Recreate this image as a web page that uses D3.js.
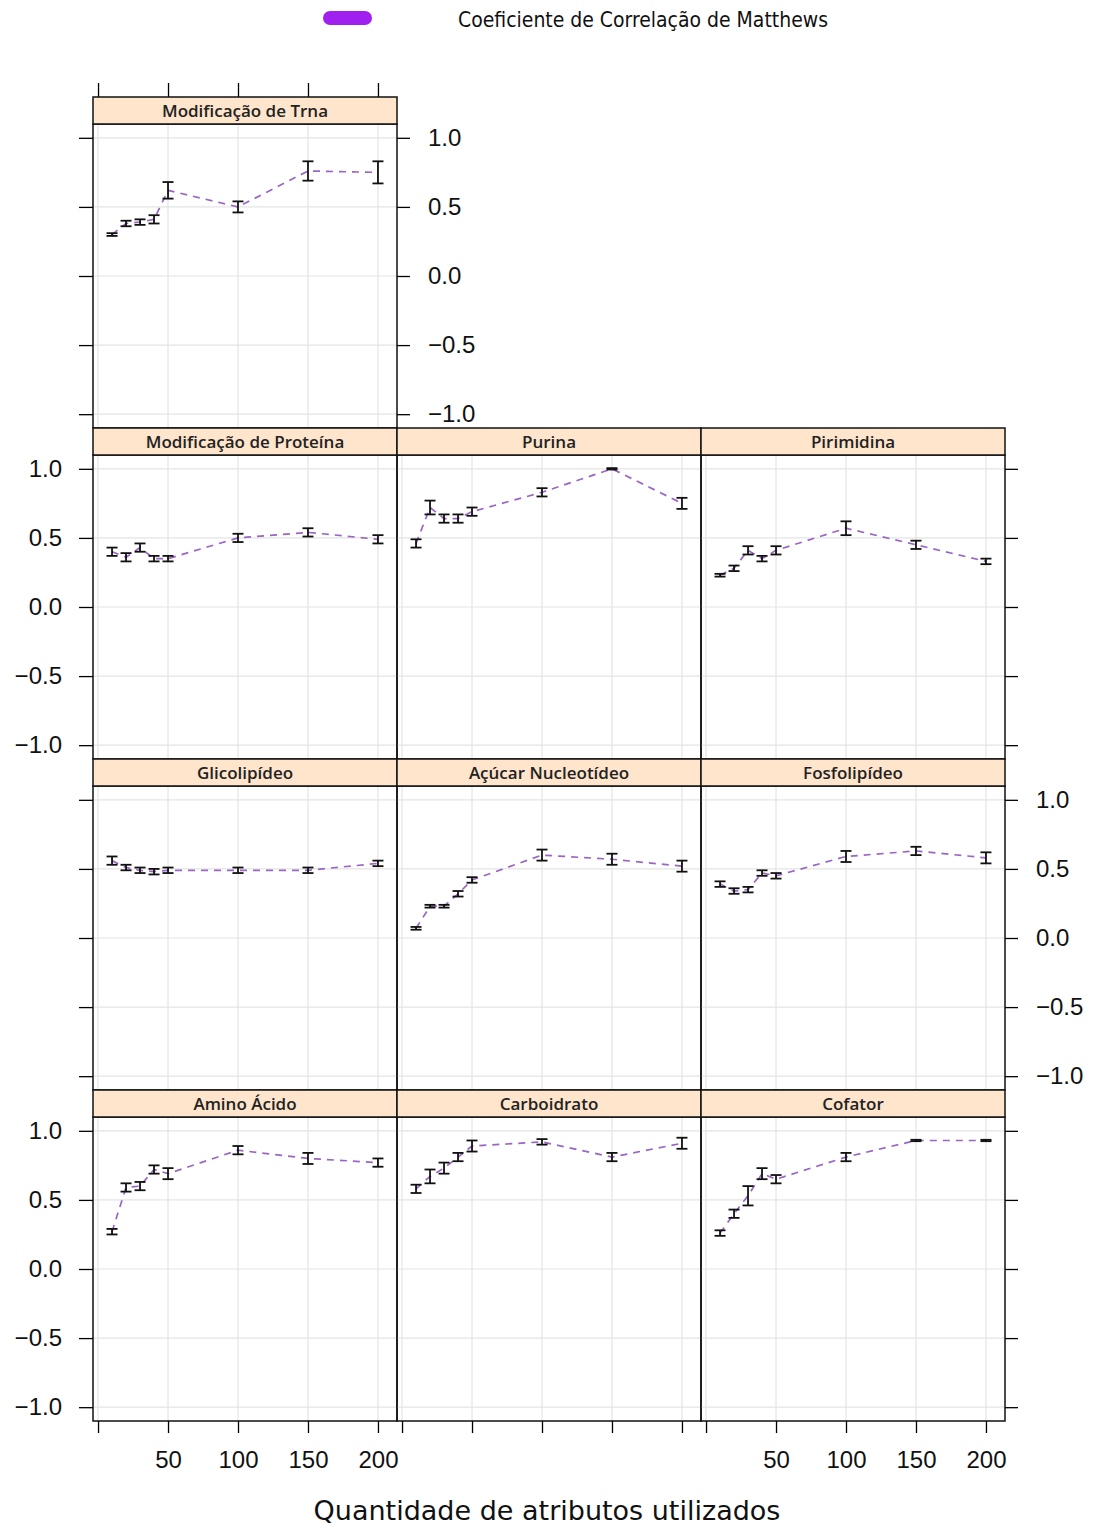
<!DOCTYPE html>
<html>
<head>
<meta charset="utf-8">
<script src="https://cdn.jsdelivr.net/npm/d3@7"></script>
<style>
  body { margin: 0; background: #fff; }
  .axis path.domain { display: none; }
  .axis line { stroke: #000; stroke-width: 1.3; }
  .axis text { font-family: "Liberation Sans", Arial, sans-serif; font-size: 24px; fill: #111; }
</style>
</head>
<body>
<div id="chart"></div>
<script>
var w = 1095;
var h = 1530;

// number of attributes used (x values)
var attributes = [10, 20, 30, 40, 50, 100, 150, 200];

var categories = [
  "Modificação de Trna",
  "Modificação de Proteína", "Purina", "Pirimidina",
  "Glicolipídeo", "Açúcar Nucleotídeo", "Fosfolipídeo",
  "Amino Ácido", "Carboidrato", "Cofator"
];

// mean MCC per category (same order as categories)
var mccMeans = [
  [0.30, 0.38, 0.39, 0.41, 0.62, 0.50, 0.76, 0.75],
  [0.40, 0.36, 0.43, 0.35, 0.35, 0.50, 0.54, 0.49],
  [0.46, 0.72, 0.64, 0.64, 0.69, 0.83, 1.00, 0.75],
  [0.23, 0.28, 0.41, 0.35, 0.41, 0.57, 0.45, 0.33],
  [0.56, 0.51, 0.49, 0.48, 0.49, 0.49, 0.49, 0.54],
  [0.07, 0.23, 0.23, 0.32, 0.42, 0.60, 0.57, 0.52],
  [0.39, 0.34, 0.35, 0.47, 0.45, 0.59, 0.63, 0.58],
  [0.27, 0.59, 0.60, 0.72, 0.69, 0.86, 0.80, 0.77],
  [0.58, 0.67, 0.73, 0.81, 0.89, 0.92, 0.81, 0.91],
  [0.26, 0.40, 0.53, 0.69, 0.65, 0.81, 0.93, 0.93]
];

// half width of the error bars
var mccErrors = [
  [0.01, 0.02, 0.02, 0.03, 0.06, 0.04, 0.07, 0.08],
  [0.03, 0.03, 0.03, 0.02, 0.02, 0.03, 0.03, 0.03],
  [0.03, 0.05, 0.03, 0.03, 0.03, 0.03, 0.005, 0.04],
  [0.01, 0.02, 0.03, 0.02, 0.03, 0.05, 0.03, 0.02],
  [0.03, 0.02, 0.02, 0.02, 0.02, 0.02, 0.02, 0.02],
  [0.01, 0.01, 0.01, 0.02, 0.02, 0.04, 0.04, 0.04],
  [0.02, 0.02, 0.02, 0.02, 0.02, 0.04, 0.03, 0.04],
  [0.02, 0.03, 0.03, 0.03, 0.04, 0.03, 0.04, 0.03],
  [0.03, 0.05, 0.04, 0.03, 0.04, 0.02, 0.03, 0.04],
  [0.02, 0.03, 0.07, 0.04, 0.03, 0.03, 0.005, 0.005]
];

var xTicks = [0, 50, 100, 150, 200];
var yTicks = [-1.0, -0.5, 0.0, 0.5, 1.0];

var legendLabel = "Coeficiente de Correlação de Matthews";
var xTitle = "Quantidade de atributos utilizados";

// layout
var panelW = 304, panelH = 304, stripH = 27;
var left0 = 93, top0 = 97;
var rowOf = [0, 1, 1, 1, 2, 2, 2, 3, 3, 3];
var colOf = [0, 0, 1, 2, 0, 1, 2, 0, 1, 2];

var xScale = d3.scaleLinear().domain([-3.6, 213.6]).range([0, panelW]);
var yScale = d3.scaleLinear().domain([-1.1, 1.1]).range([panelH, 0]);

var svg = d3.select("#chart").append("svg")
  .attr("width", w)
  .attr("height", h);

//Legend
svg.append("rect")
  .attr("x", 323).attr("y", 11)
  .attr("width", 49).attr("height", 14)
  .attr("rx", 7).attr("ry", 7)
  .style("fill", "#a020f0");
svg.append("text")
  .text(legendLabel)
  .attr("x", 458).attr("y", 27)
  .attr("font-family", "'DejaVu Sans Condensed', 'DejaVu Sans', sans-serif")
  .attr("font-size", "22px")
  .attr("textLength", 370)
  .attr("lengthAdjust", "spacingAndGlyphs")
  .attr("fill", "#111");

var fmtY = d3.format(".1f");
var line = d3.line()
  .x(function(d) { return xScale(d.x); })
  .y(function(d) { return yScale(d.y); });

categories.forEach(function(name, i) {
  var r = rowOf[i], c = colOf[i];
  var px = left0 + c * panelW;
  var sy = top0 + r * (panelH + stripH);
  var py = sy + stripH;

  var g = svg.append("g").attr("transform", "translate(" + px + "," + py + ")");

  // grid
  g.selectAll(".vg").data(xTicks).enter().append("line")
    .attr("x1", function(d) { return xScale(d); })
    .attr("x2", function(d) { return xScale(d); })
    .attr("y1", 0).attr("y2", panelH)
    .attr("stroke", "#e4e4e4").attr("stroke-width", 1.2);
  g.selectAll(".hg").data(yTicks).enter().append("line")
    .attr("x1", 0).attr("x2", panelW)
    .attr("y1", function(d) { return yScale(d); })
    .attr("y2", function(d) { return yScale(d); })
    .attr("stroke", "#e4e4e4").attr("stroke-width", 1.2);

  var pts = attributes.map(function(a, j) {
    return { x: a, y: mccMeans[i][j], e: mccErrors[i][j] };
  });

  // dashed line between means
  g.append("path")
    .datum(pts)
    .attr("d", line)
    .attr("fill", "none")
    .attr("stroke", "#9a66c4")
    .attr("stroke-width", 1.7)
    .attr("stroke-dasharray", "7,6");

  // error bars
  var eb = g.selectAll(".eb").data(pts).enter().append("g")
    .attr("stroke", "#111").attr("stroke-width", 1.8);
  eb.append("line")
    .attr("x1", function(d) { return xScale(d.x); })
    .attr("x2", function(d) { return xScale(d.x); })
    .attr("y1", function(d) { return yScale(d.y - d.e); })
    .attr("y2", function(d) { return yScale(d.y + d.e); });
  [-1, 1].forEach(function(s) {
    eb.append("line")
      .attr("x1", function(d) { return xScale(d.x) - 5.5; })
      .attr("x2", function(d) { return xScale(d.x) + 5.5; })
      .attr("y1", function(d) { return yScale(d.y + s * d.e); })
      .attr("y2", function(d) { return yScale(d.y + s * d.e); });
  });

  // panel border
  g.append("rect")
    .attr("x", 0).attr("y", 0)
    .attr("width", panelW).attr("height", panelH)
    .attr("fill", "none").attr("stroke", "#111").attr("stroke-width", 1.5);

  // strip
  svg.append("rect")
    .attr("x", px).attr("y", sy)
    .attr("width", panelW).attr("height", stripH)
    .attr("fill", "#ffe5cc").attr("stroke", "#111").attr("stroke-width", 1.5);
  svg.append("text")
    .text(name)
    .attr("x", px + panelW / 2).attr("y", sy + stripH / 2 + 6)
    .attr("text-anchor", "middle")
    .attr("font-family", "'Open Sans', sans-serif")
    .attr("font-size", "17px")
    .attr("font-weight", 600)
    .attr("fill", "#222");

  // left axis (first column), labels on alternate rows
  if (c === 0) {
    var la = d3.axisLeft(yScale).tickValues(yTicks).tickSize(14).tickPadding(17)
      .tickFormat(r % 2 === 1 ? fmtY : "");
    g.append("g").attr("class", "axis").call(la);
  }
  // right axis: last panel of each row
  var lastCol = (r === 0) ? 0 : 2;
  if (c === lastCol) {
    var ra = d3.axisRight(yScale).tickValues(yTicks).tickSize(13).tickPadding(18)
      .tickFormat(r % 2 === 0 ? fmtY : "");
    g.append("g").attr("class", "axis")
      .attr("transform", "translate(" + panelW + ",0)")
      .call(ra);
  }
  // top axis of first row
  if (r === 0) {
    var ta = d3.axisTop(xScale).tickValues(xTicks).tickSize(14).tickFormat("");
    g.append("g").attr("class", "axis")
      .attr("transform", "translate(0," + (-stripH) + ")")
      .call(ta);
  }
  // bottom axis of last row
  if (r === 3) {
    var ba = d3.axisBottom(xScale).tickValues(xTicks).tickSize(12).tickPadding(18)
      .tickFormat(function(d) { return (c === 1 || d === 0) ? "" : d; });
    g.append("g").attr("class", "axis")
      .attr("transform", "translate(0," + panelH + ")")
      .call(ba);
  }
});

svg.append("text")
  .text(xTitle)
  .attr("x", 547).attr("y", 1520)
  .attr("text-anchor", "middle")
  .attr("font-family", "'DejaVu Sans', sans-serif")
  .attr("font-size", "27px")
  .attr("fill", "#111");
</script>
</body>
</html>
